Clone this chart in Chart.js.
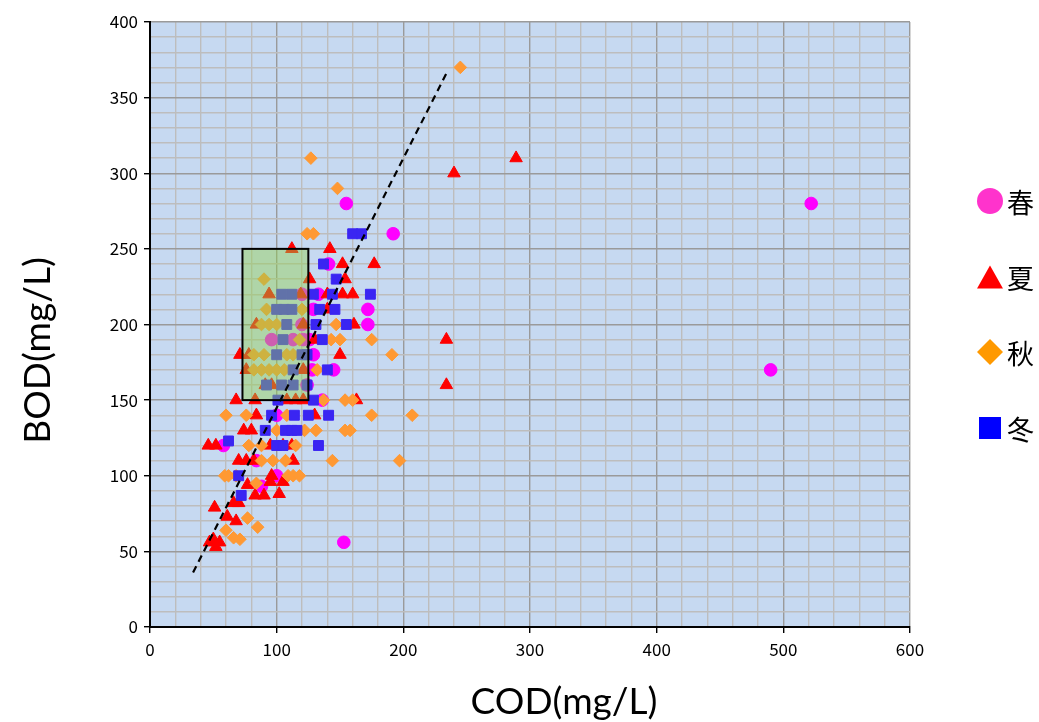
<!DOCTYPE html>
<html>
<head>
<meta charset="utf-8">
<script src="https://cdn.jsdelivr.net/npm/chart.js@4/dist/chart.umd.min.js"></script>
<style>
  body { margin: 0; background: #fff; }
  #wrap { position: relative; width: 1039px; height: 722px; }
  #legend { position: absolute; left: 977px; top: 0; margin: 0; padding: 0; list-style: none;
            font-family: "Noto Sans CJK JP", sans-serif; font-size: 27px; color: #000; }
  #legend li { position: absolute; left: 0; height: 40px; display: flex; align-items: center; white-space: nowrap; }
  #legend .mk { width: 26px; height: 26px; margin-right: 4px; }
  #legend .circle { border-radius: 50%; }
  #legend .triangle { clip-path: polygon(50% 6%, 100% 94%, 0 94%); }
  #legend .rectRot { clip-path: polygon(50% 0, 100% 50%, 50% 100%, 0 50%); }
  #legend .rect { width: 22px; height: 22px; margin: 0 6px 0 2px; }
</style>
</head>
<body>
<div id="wrap">
  <canvas id="chart" width="1039" height="722"></canvas>
  <ul id="legend"></ul>
</div>
<script>
// series names (legend)
const seasons = ["春", "夏", "秋", "冬"];

// [COD, BOD]
const spring = [
  [522,280],[490,170],[155,280],[192,260],[153,56],[172,210],[172,200],[145,170],[141,240],[58,120],
  [120,220],[133,220],[129,210],[120,200],[96,190],[113,190],[121,190],[126,190],[129,180],[128,170],
  [124,160],[136,150],[100,140],[84,110],[100,100],[88,93]
];
const summer = [
  [289,310],[240,300],[234,190],[234,160],[177,240],[152,240],[154,230],[152,220],[161,200],[150,180],
  [163,150],[142,250],[112,250],[126,230],[94,220],[119,220],[140,220],[160,220],[140,210],[84,200],
  [121,200],[130,190],[71,180],[78,180],[76,170],[121,170],[91,160],[96,160],[68,150],[83,150],
  [108,150],[115,150],[121,150],[84,140],[130,140],[74,130],[80,130],[46,120],[52,120],[95,120],
  [105,120],[112,120],[70,110],[76,110],[82,110],[113,110],[96,100],[77,94],[95,96],[105,96],
  [83,87],[90,87],[102,88],[66,82],[70,82],[51,79],[61,73],[68,70],[47,56],[52,53],[55,56],[50,58]
];
const autumn = [
  [245,370],[127,310],[148,290],[124,260],[129,260],[90,230],[191,180],[207,140],[197,110],[144,110],
  [175,190],[175,140],[92,210],[120,210],[88,200],[94,200],[100,200],[147,200],[118,190],[143,190],
  [150,190],[82,180],[90,180],[108,180],[113,180],[82,170],[88,170],[94,170],[100,170],[106,170],
  [132,170],[137,150],[154,150],[160,150],[60,140],[76,140],[108,140],[100,130],[122,130],[131,130],
  [154,130],[158,130],[78,120],[88,120],[115,120],[88,110],[97,110],[107,110],[59,100],[62,100],
  [68,100],[109,100],[113,100],[118,100],[84,95],[77,72],[85,66],[60,64],[66,59],[71,58]
];
const winter = [
  [160,260],[167,260],[137,240],[147,230],[104,220],[112,220],[129,220],[144,220],[174,220],[100,210],
  [106,210],[112,210],[134,210],[146,210],[108,200],[131,200],[155,200],[105,190],[136,190],[100,180],
  [120,180],[124,180],[113,170],[140,170],[92,160],[104,160],[113,160],[124,160],[101,150],[129,150],
  [96,140],[114,140],[125,140],[141,140],[91,130],[107,130],[112,130],[116,130],[100,120],[105,120],
  [133,120],[62,123],[70,100],[72,87]
];

// dashed guide line and highlighted box
const trendCod = [34, 234];
const trendBod = [36, 366];
const boxCod = [73, 125];
const boxBod = [150, 250];

// axes
const codMax = 600, codStep = 20, codLabelStep = 100;
const bodMax = 400, bodStep = 10, bodLabelStep = 50;
const codTitle = "COD(mg/L)";
const bodTitle = "BOD(mg/L)";

const toXY = (arr) => arr.map(p => ({ x: p[0], y: p[1] }));

const plotBg = {
  id: "plotBg",
  beforeDraw(chart) {
    const { ctx, chartArea: a } = chart;
    ctx.save();
    ctx.fillStyle = "#C6D9F1";
    ctx.fillRect(a.left, a.top, a.right - a.left, a.bottom - a.top);
    ctx.restore();
  },
  // the box goes under the dashed line but over the markers
  beforeDatasetDraw(chart, args) {
    if (chart.data.datasets[args.index].id !== "trend") return;
    const { ctx, scales: { x, y } } = chart;
    const l = x.getPixelForValue(boxCod[0]), r = x.getPixelForValue(boxCod[1]);
    const t = y.getPixelForValue(boxBod[1]), b = y.getPixelForValue(boxBod[0]);
    ctx.save();
    ctx.fillStyle = "rgba(146,208,80,0.45)";
    ctx.fillRect(l, t, r - l, b - t);
    ctx.lineWidth = 2;
    ctx.strokeStyle = "#000";
    ctx.strokeRect(l, t, r - l, b - t);
    ctx.restore();
  },
  // axis titles sit a bit off the plot centre, like the original
  afterDraw(chart) {
    const { ctx, chartArea: a } = chart;
    ctx.save();
    ctx.fillStyle = "#000";
    ctx.font = "37px Lato, 'Noto Sans'";
    ctx.textAlign = "center";
    ctx.textBaseline = "middle";
    ctx.fillText(codTitle, (a.left + a.right) / 2 + 34, 702);
    ctx.translate(38, (a.top + a.bottom) / 2 + 26);
    ctx.rotate(-Math.PI / 2);
    ctx.fillText(bodTitle, 0, 0);
    ctx.restore();
  }
};

const htmlLegend = {
  id: "htmlLegend",
  afterUpdate(chart) {
    const ul = document.getElementById("legend");
    ul.innerHTML = "";
    const rows = [201, 277, 352, 428];
    chart.data.datasets.filter(d => d.id !== "trend").forEach((d, i) => {
      const li = document.createElement("li");
      li.style.top = (rows[i] - 20) + "px";
      const mk = document.createElement("span");
      mk.className = "mk " + d.pointStyle;
      mk.style.background = d.legendColor;
      li.appendChild(mk);
      li.appendChild(document.createTextNode(d.label));
      ul.appendChild(li);
    });
  }
};

const ctx = document.getElementById("chart").getContext("2d");
const chart = new Chart(ctx, {
  type: "scatter",
  data: {
    datasets: [
      { id: "trend", type: "line", data: trendCod.map((c, i) => ({ x: c, y: trendBod[i] })),
        borderColor: "#000", borderWidth: 2.2, borderDash: [7, 5], pointRadius: 0,
        fill: false, order: 0 },
      { label: seasons[0], data: toXY(spring), pointStyle: "circle", pointRadius: 6.3,
        backgroundColor: "#FF00FF", borderColor: "#FF00FF", borderWidth: 1, legendColor: "#FF33CC", order: 4 },
      { label: seasons[1], data: toXY(summer), pointStyle: "triangle", pointRadius: 7.2,
        backgroundColor: "#FF0000", borderColor: "#FF0000", borderWidth: 1, legendColor: "#FF0000", order: 3 },
      { label: seasons[2], data: toXY(autumn), pointStyle: "rectRot", pointRadius: 6.3,
        backgroundColor: "#FF9933", borderColor: "#FF9933", borderWidth: 1, legendColor: "#FF9900", order: 2 },
      { label: seasons[3], data: toXY(winter), pointStyle: "rect", pointRadius: 7,
        backgroundColor: "#3A25F2", borderColor: "#3A25F2", borderWidth: 1, legendColor: "#0000FF", order: 1 }
    ]
  },
  options: {
    responsive: false,
    animation: false,
    layout: { padding: { left: 0, top: 22, right: 129, bottom: 0 } },
    plugins: {
      legend: { display: false },
      tooltip: { enabled: false }
    },
    scales: {
      x: {
        type: "linear", min: 0, max: codMax,
        afterFit: (s) => { s.height = 95; },
        border: { color: "#000", width: 2 },
        grid: {
          color: (c) => c.tick.value % codLabelStep === 0 ? "#9A9A9A" : "#BDBDBD",
          lineWidth: 1.4,
          tickColor: (c) => c.tick.value % codLabelStep === 0 ? "#000" : "rgba(0,0,0,0)",
          tickLength: 6
        },
        ticks: {
          stepSize: codStep, autoSkip: false, maxRotation: 0, padding: 6, color: "#000",
          font: { family: "'Noto Sans CJK JP'", size: 17 },
          callback: (v) => v % codLabelStep === 0 ? v : ""
        }
      },
      y: {
        type: "linear", min: 0, max: bodMax,
        afterFit: (s) => { s.width = 150; },
        border: { color: "#000", width: 2 },
        grid: {
          color: (c) => c.tick.value % bodLabelStep === 0 ? "#9A9A9A" : "#BDBDBD",
          lineWidth: 1.4,
          tickColor: (c) => c.tick.value % bodLabelStep === 0 ? "#000" : "rgba(0,0,0,0)",
          tickLength: 6
        },
        ticks: {
          stepSize: bodStep, autoSkip: false, padding: 6, color: "#000",
          font: { family: "'Noto Sans CJK JP'", size: 17 },
          callback: (v) => v % bodLabelStep === 0 ? v : ""
        }
      }
    }
  },
  plugins: [plotBg, htmlLegend]
});
</script>
</body>
</html>
